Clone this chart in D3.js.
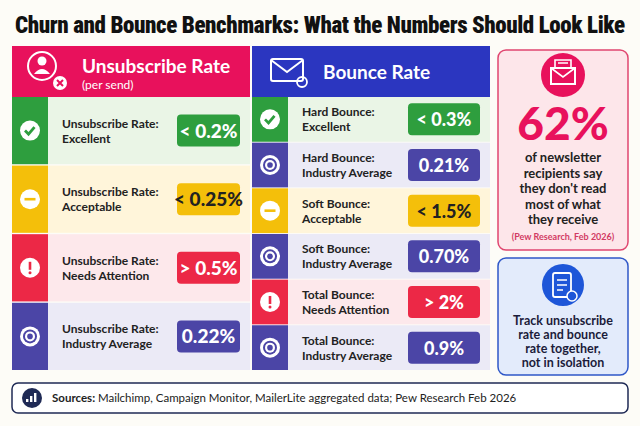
<!DOCTYPE html><html><head><meta charset="utf-8"><script src="https://cdn.jsdelivr.net/npm/d3@7"></script>
<style>body{margin:0;background:#fdfcf7}svg{font-family:Lato,"Open Sans",sans-serif}</style></head><body><svg width="640" height="426"></svg><script>
const unsubLabels=[["Unsubscribe Rate:","Excellent"],["Unsubscribe Rate:","Acceptable"],["Unsubscribe Rate:","Needs Attention"],["Unsubscribe Rate:","Industry Average"]];
const unsubValues=["< 0.2%","< 0.25%","> 0.5%","0.22%"];
const unsubStatus=["good","ok","bad","avg"];
const bounceLabels=[["Hard Bounce:","Excellent"],["Hard Bounce:","Industry Average"],["Soft Bounce:","Acceptable"],["Soft Bounce:","Industry Average"],["Total Bounce:","Needs Attention"],["Total Bounce:","Industry Average"]];
const bounceValues=["< 0.3%","0.21%","< 1.5%","0.70%","> 2%","0.9%"];
const bounceStatus=["good","avg","ok","avg","bad","avg"];
const statLines=["of newsletter","recipients say","they don't read","most of what","they receive"];
const tipLines=["Track unsubscribe","rate and bounce","rate together,","not in isolation"];
const col={good:["#2e9e3e","#eaf5e6","#fff"],ok:["#f4bf0a","#fff5da","#222"],bad:["#ec2846","#fde8eb","#fff"],avg:["#4b45a6","#ebeaf6","#fff"]};
const svg=d3.select("svg");
svg.append("text").attr("x",320).attr("y",33).attr("text-anchor","middle").attr("font-size",23).attr("font-weight",900).attr("fill","#111").attr("font-family","Roboto Condensed,Roboto,sans-serif").attr("textLength",610).text("Churn and Bounce Benchmarks: What the Numbers Should Look Like");
function icon(g,s,cx,cy){
 g.append("circle").attr("cx",cx).attr("cy",cy).attr("r",10).attr("fill","#fff");
 const c=col[s][0];
 if(s=="good")g.append("path").attr("d",`M${cx-5},${cy} l3.5,3.5 l6,-7`).attr("stroke",c).attr("stroke-width",2.8).attr("fill","none");
 if(s=="ok")g.append("rect").attr("x",cx-5.5).attr("y",cy-1.3).attr("width",11).attr("height",2.6).attr("fill",c);
 if(s=="bad"){g.append("rect").attr("x",cx-1.3).attr("y",cy-6).attr("width",2.6).attr("height",8).attr("fill",c);g.append("circle").attr("cx",cx).attr("cy",cy+5).attr("r",1.5).attr("fill",c);}
 if(s=="avg"){g.append("circle").attr("cx",cx).attr("cy",cy).attr("r",7).attr("fill",c);g.append("circle").attr("cx",cx).attr("cy",cy).attr("r",5).attr("fill","#fff");g.append("circle").attr("cx",cx).attr("cy",cy).attr("r",2.8).attr("fill",c);}
}
function panel(x0,x1,headColor,labels,values,status,bx,bw,fs){
 svg.append("rect").attr("x",x0).attr("y",46).attr("width",x1-x0).attr("height",51).attr("fill",headColor);
 const y=d3.scaleBand().domain(d3.range(labels.length)).range([97,370]).paddingInner(0.02);
 labels.forEach((l,i)=>{const s=status[i],g=svg.append("g"),yy=y(i),h=y.bandwidth(),cy=yy+h/2;
  g.append("rect").attr("x",x0).attr("y",yy).attr("width",x1-x0).attr("height",h).attr("fill",col[s][1]);
  g.append("rect").attr("x",x0).attr("y",yy).attr("width",36).attr("height",h).attr("fill",col[s][0]);
  icon(g,s,x0+18,cy);
  g.append("text").attr("x",x0+50).attr("y",cy-3).attr("font-size",12).attr("font-weight",700).attr("fill","#222").text(l[0]);
  g.append("text").attr("x",x0+50).attr("y",cy+12).attr("font-size",12).attr("font-weight",700).attr("fill","#222").text(l[1]);
  g.append("rect").attr("x",bx).attr("y",cy-16).attr("width",bw).attr("height",32).attr("rx",4).attr("fill",col[s][0]);
  g.append("text").attr("x",bx+bw/2).attr("y",cy+7).attr("text-anchor","middle").attr("font-size",fs).attr("font-weight",900).attr("fill",col[s][2]).text(values[i]);
 });
}
panel(12,250,"#e8115c",unsubLabels,unsubValues,unsubStatus,177,63,19);
panel(252,490,"#2b36c0",bounceLabels,bounceValues,bounceStatus,408,72,18);
// headers
let h=svg.append("g");
h.append("circle").attr("cx",42).attr("cy",66).attr("r",14).attr("fill","none").attr("stroke","#fff").attr("stroke-width",2);
h.append("circle").attr("cx",42).attr("cy",61).attr("r",4.5).attr("fill","#fff");
h.append("path").attr("d","M34,74 q8,-10 16,0 z").attr("fill","#fff");
h.append("circle").attr("cx",60).attr("cy",83).attr("r",7).attr("fill","#fff");
h.append("path").attr("d","M57,80 l6,6 M63,80 l-6,6").attr("stroke","#e8115c").attr("stroke-width",2);
h.append("text").attr("x",82).attr("y",73).attr("font-size",19).attr("font-weight",700).attr("fill","#fff").text("Unsubscribe Rate");
h.append("text").attr("x",82).attr("y",89).attr("font-size",12).attr("fill","#fff").text("(per send)");
h.append("rect").attr("x",271).attr("y",59).attr("width",32).attr("height",22).attr("rx",2).attr("fill","none").attr("stroke","#fff").attr("stroke-width",2);
h.append("path").attr("d","M271,60 l16,12 l16,-12").attr("fill","none").attr("stroke","#fff").attr("stroke-width",2);
h.append("circle").attr("cx",302).attr("cy",82).attr("r",5).attr("fill","none").attr("stroke","#fff").attr("stroke-width",1.8);
h.append("text").attr("x",323).attr("y",79).attr("font-size",19).attr("font-weight",700).attr("fill","#fff").text("Bounce Rate");
// stat card
svg.append("rect").attr("x",498).attr("y",50).attr("width",130).attr("height",200).attr("rx",8).attr("fill","#fde6ea").attr("stroke","#e04670").attr("stroke-width",1.5);
svg.append("circle").attr("cx",563).attr("cy",75).attr("r",22).attr("fill","#e8115c");
svg.append("rect").attr("x",551).attr("y",68).attr("width",24).attr("height",16).attr("fill","none").attr("stroke","#fff").attr("stroke-width",2);
svg.append("path").attr("d","M551,68 l12,9 l12,-9 M555,68 v-8 h16 v8 M558,63 h10").attr("fill","none").attr("stroke","#fff").attr("stroke-width",1.6);
svg.append("text").attr("x",563).attr("y",140).attr("text-anchor","middle").attr("font-size",46).attr("font-weight",900).attr("fill","#e8115c").text("62%");
statLines.forEach((t,i)=>svg.append("text").attr("x",563).attr("y",162+i*15.5).attr("text-anchor","middle").attr("font-size",13).attr("font-weight",700).attr("fill","#222").text(t));
svg.append("text").attr("x",563).attr("y",240).attr("text-anchor","middle").attr("font-size",9).attr("font-weight",700).attr("fill","#d23a63").text("(Pew Research, Feb 2026)");
// tip card
svg.append("rect").attr("x",498).attr("y",258).attr("width",130).attr("height",117).attr("rx",8).attr("fill","#e3ebfb").attr("stroke","#2f57c8").attr("stroke-width",1.5);
svg.append("circle").attr("cx",563).attr("cy",285).attr("r",21).attr("fill","#1e56d8");
svg.append("rect").attr("x",553).attr("y",273).attr("width",18).attr("height",24).attr("rx",2).attr("fill","none").attr("stroke","#fff").attr("stroke-width",1.8);
svg.append("path").attr("d","M557,280 h10 M557,285 h10 M557,290 h6").attr("stroke","#fff").attr("stroke-width",1.5);
svg.append("circle").attr("cx",572).attr("cy",296).attr("r",5).attr("fill","#1e56d8").attr("stroke","#fff").attr("stroke-width",1.5);
tipLines.forEach((t,i)=>svg.append("text").attr("x",563).attr("y",325+i*14).attr("text-anchor","middle").attr("font-size",12.5).attr("font-weight",700).attr("fill","#1b1b3a").text(t));
// footer
svg.append("rect").attr("x",12).attr("y",383).attr("width",616).attr("height",30).attr("rx",6).attr("fill","#fff").attr("stroke","#1f2a55").attr("stroke-width",1.5);
svg.append("circle").attr("cx",32).attr("cy",398).attr("r",10).attr("fill","#1f2a55");
[[-4,3],[0,6],[4,9]].forEach(([dx,hh])=>svg.append("rect").attr("x",31+dx-1).attr("y",402-hh).attr("width",2.4).attr("height",hh).attr("fill","#fff"));
const ft=svg.append("text").attr("x",52).attr("y",402).attr("font-size",11.5).attr("fill","#222");
ft.append("tspan").attr("font-weight",700).text("Sources: ");
ft.append("tspan").text("Mailchimp, Campaign Monitor, MailerLite aggregated data; Pew Research Feb 2026");
</script></body></html>
